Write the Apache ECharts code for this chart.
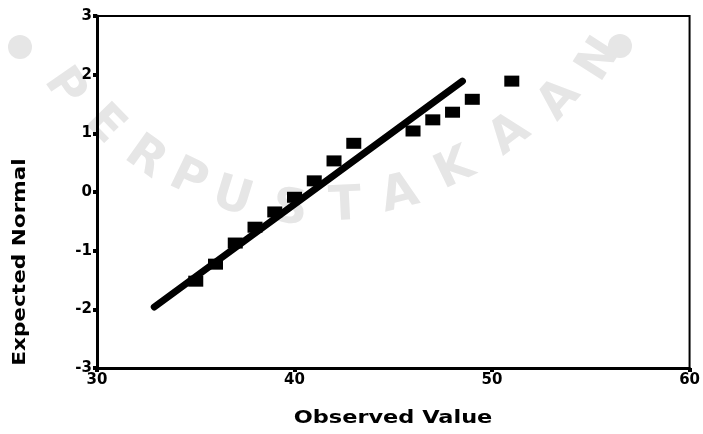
<!DOCTYPE html>
<html>
<head>
<meta charset="utf-8">
<script src="https://cdn.jsdelivr.net/npm/echarts@6/dist/echarts.min.js"></script>
<style>html,body{margin:0;padding:0;background:#fff}#c{width:703px;height:434px}</style>
</head>
<body>
<div id="c"></div>
<script>
// Data
const observedValues = [35, 36, 37, 38, 39, 40, 41, 42, 43, 46, 47, 48, 49, 51];
const expectedNormal = [-1.52, -1.23, -0.87, -0.60, -0.34, -0.09, 0.19, 0.53, 0.83, 1.04, 1.23, 1.36, 1.58, 1.89];
const refLineX = [32.9, 48.5];
const refLineY = [-1.96, 1.89];
const xTitle = 'Observed Value';
const yTitle = 'Expected Normal';
const watermarkLetters = ['P','E','R','P','U','S','T','A','K','A','A','N'];

const chart = echarts.init(document.getElementById('c'), null, {renderer: 'canvas'});
const font = 'DejaVu Sans';

// watermark letter placement (decoration only)
const wmPos = [[64,88,-0.97],[104,125,-0.80],[145,158,-0.62],[188,180,-0.45],[232,198,-0.30],[290,210,-0.10],[345,207,0.05],[400,195,0.25],[455,170,0.45],[510,135,0.65],[560,100,0.85],[600,60,1.0]];
const wm = watermarkLetters.map((ch, i) => ({
  type: 'text', x: wmPos[i][0], y: wmPos[i][1], rotation: wmPos[i][2], z: -10, silent: true,
  style: {text: ch, fill: '#e6e6e6', font: 'bold 48px ' + font, textAlign: 'center', textVerticalAlign: 'middle'}
}));

const option = {
  animation: false,
  backgroundColor: '#fff',
  grid: {left: 97, right: 7, top: 16, bottom: 66, show: true, borderColor: '#000', borderWidth: 2, backgroundColor: 'transparent'},
  xAxis: {
    type: 'value', min: 30, max: 60, interval: 10,
    axisLine: {show: true, onZero: false, lineStyle: {color: '#000', width: 3}},
    axisTick: {show: true, length: 4, lineStyle: {color: '#000', width: 4}},
    axisLabel: {color: '#000', fontFamily: font, fontWeight: 'bold', fontSize: 15, margin: 5},
    splitLine: {show: false}
  },
  yAxis: {
    type: 'value', min: -3, max: 3, interval: 1,
    axisLine: {show: true, onZero: false, lineStyle: {color: '#000', width: 3}},
    axisTick: {show: true, length: 4, lineStyle: {color: '#000', width: 4}},
    axisLabel: {color: '#000', fontFamily: font, fontWeight: 'bold', fontSize: 15, margin: 5},
    splitLine: {show: false}
  },
  graphic: wm.concat([
    {type: 'circle', shape: {cx: 20, cy: 47, r: 12}, style: {fill: '#e6e6e6'}, z: -10, silent: true},
    {type: 'circle', shape: {cx: 620, cy: 46, r: 12}, style: {fill: '#e6e6e6'}, z: -10, silent: true},
    {type: 'text', x: 393, y: 419, scaleX: 1.32, style: {text: xTitle, fill: '#000', font: 'bold 17px ' + font, textAlign: 'center', textVerticalAlign: 'middle'}},
    {type: 'text', x: 21, y: 262, rotation: Math.PI / 2, scaleX: 1.27, style: {text: yTitle, fill: '#000', font: 'bold 17px ' + font, textAlign: 'center', textVerticalAlign: 'middle'}}
  ]),
  series: [
    {
      type: 'line', data: refLineX.map((x, i) => [x, refLineY[i]]),
      showSymbol: false, symbol: 'none', lineStyle: {color: '#000', width: 7, cap: 'round'}, z: 3
    },
    {
      type: 'scatter', data: observedValues.map((x, i) => [x, expectedNormal[i]]),
      symbol: 'rect', symbolSize: [15, 11], itemStyle: {color: '#000', opacity: 1}, z: 4
    }
  ]
};
chart.setOption(option);
</script>
</body>
</html>
